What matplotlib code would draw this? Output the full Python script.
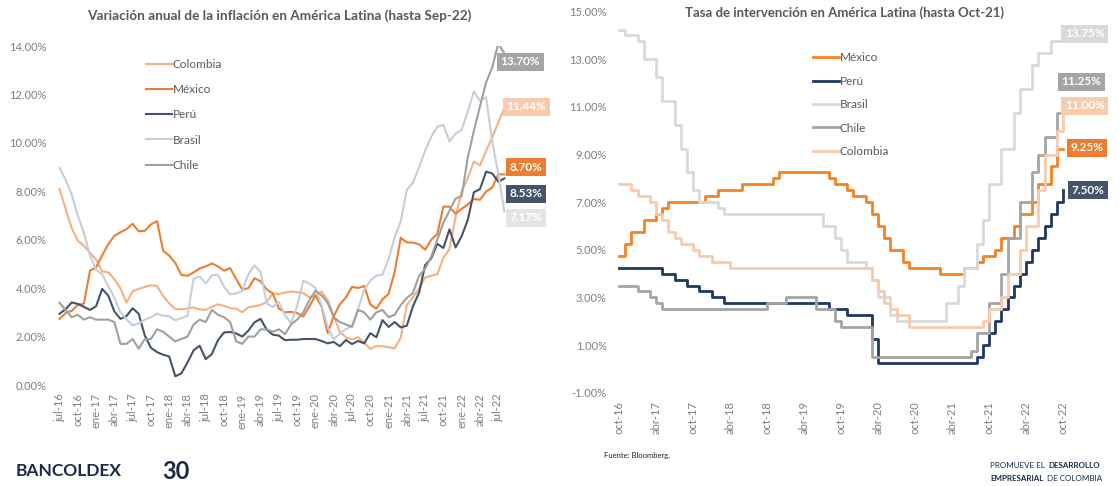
import matplotlib
matplotlib.use('Agg')
import matplotlib.pyplot as plt
from matplotlib.ticker import FuncFormatter

plt.rcParams['font.family'] = ['Lato', 'DejaVu Sans']

################################
# inflacion anual (%), ago-16 .. sep-22
colombia_inf = [8.10, 7.27, 6.48, 5.96, 5.75,
                5.47, 5.18, 4.69, 4.66, 4.37, 3.99, 3.40, 3.87, 3.97, 4.05, 4.12, 4.09,
                3.68, 3.37, 3.14, 3.13, 3.16, 3.20, 3.12, 3.10, 3.23, 3.33, 3.27, 3.18,
                3.15, 3.01, 3.21, 3.25, 3.31, 3.43, 3.79, 3.75, 3.82, 3.86, 3.84, 3.80,
                3.62, 3.72, 3.86, 3.51, 2.85, 2.19, 1.97, 1.88, 1.97, 1.75, 1.49, 1.61,
                1.60, 1.56, 1.51, 1.95, 3.30, 3.63, 3.97, 4.44, 4.51, 4.58, 5.26, 5.62,
                6.94, 8.01, 8.53, 9.23, 9.07, 9.67, 10.21, 10.84, 11.44]
mexico_inf = [2.73, 2.97, 3.06, 3.31, 3.36,
              4.72, 4.86, 5.35, 5.82, 6.16, 6.31, 6.44, 6.66, 6.35, 6.37, 6.63, 6.77,
              5.55, 5.34, 5.04, 4.55, 4.51, 4.65, 4.81, 4.90, 5.02, 4.90, 4.72, 4.83,
              4.37, 3.94, 4.00, 4.41, 4.28, 3.95, 3.78, 3.16, 3.00, 3.02, 2.97, 2.83,
              3.24, 3.70, 3.25, 2.15, 2.84, 3.33, 3.62, 4.05, 4.01, 4.09, 3.33, 3.15,
              3.54, 3.76, 4.67, 6.08, 5.89, 5.88, 5.81, 5.59, 6.00, 6.24, 7.37, 7.36,
              7.07, 7.28, 7.45, 7.68, 7.65, 7.99, 8.15, 8.70, 8.70]
peru_inf = [2.94, 3.13, 3.41, 3.35, 3.23,
            3.10, 3.25, 3.97, 3.69, 3.04, 2.73, 2.85, 3.17, 2.94, 2.04, 1.54, 1.36,
            1.25, 1.18, 0.36, 0.48, 0.93, 1.43, 1.62, 1.07, 1.28, 1.85, 2.17, 2.19,
            2.13, 2.00, 2.25, 2.59, 2.73, 2.29, 2.08, 2.04, 1.85, 1.87, 1.87, 1.90,
            1.90, 1.90, 1.82, 1.72, 1.78, 1.60, 1.86, 1.69, 1.82, 1.72, 2.14, 1.97,
            2.68, 2.40, 2.60, 2.38, 2.45, 3.25, 3.81, 4.95, 5.23, 5.83, 5.66, 6.43,
            5.68, 6.15, 6.82, 7.96, 8.09, 8.81, 8.74, 8.40, 8.53]
brasil_inf = [8.97, 8.48, 7.87, 6.99, 6.29,
              5.35, 4.76, 4.57, 4.08, 3.60, 3.00, 2.71, 2.46, 2.54, 2.70, 2.80, 2.95,
              2.86, 2.84, 2.68, 2.76, 2.86, 4.39, 4.48, 4.19, 4.53, 4.56, 4.05, 3.75,
              3.78, 3.89, 4.58, 4.94, 4.66, 3.37, 3.22, 3.43, 2.89, 2.54, 3.27, 4.31,
              4.19, 4.01, 3.30, 2.40, 1.88, 2.13, 2.31, 2.44, 3.14, 3.92, 4.31, 4.52,
              4.56, 5.20, 6.10, 6.76, 8.06, 8.35, 8.99, 9.68, 10.25, 10.67, 10.74, 10.06,
              10.38, 10.54, 11.30, 12.13, 11.73, 11.89, 10.07, 8.73, 7.17]
chile_inf = [3.4, 3.1, 2.8, 2.9, 2.7,
             2.8, 2.7, 2.7, 2.7, 2.6, 1.7, 1.7, 1.9, 1.5, 1.9, 1.9, 2.3,
             2.2, 2.0, 1.8, 1.9, 2.0, 2.5, 2.7, 2.6, 3.1, 2.9, 2.8, 2.6,
             1.8, 1.7, 2.0, 2.0, 2.3, 2.3, 2.2, 2.3, 2.1, 2.5, 2.7, 3.0,
             3.5, 3.9, 3.7, 3.4, 2.8, 2.6, 2.5, 2.4, 3.1, 3.0, 2.7, 3.0,
             3.1, 2.8, 2.9, 3.3, 3.6, 3.8, 4.5, 4.8, 5.3, 6.0, 6.7, 7.2,
             7.7, 7.8, 9.4, 10.5, 11.5, 12.5, 13.1, 14.1, 13.7]
inf_ticks = ['jul-16', 'oct-16', 'ene-17', 'abr-17', 'jul-17', 'oct-17', 'ene-18', 'abr-18',
             'jul-18', 'oct-18', 'ene-19', 'abr-19', 'jul-19', 'oct-19', 'ene-20', 'abr-20',
             'jul-20', 'oct-20', 'ene-21', 'abr-21', 'jul-21', 'oct-21', 'ene-22', 'abr-22',
             'jul-22']

# tasa de intervencion (%), fin de mes, oct-16 .. oct-22
mexico_tasa = [4.75, 5.25, 5.75, 5.75, 6.25, 6.25, 6.50, 6.75, 7.00, 7.00, 7.00, 7.00,
               7.00, 7.00, 7.25, 7.25, 7.50, 7.50, 7.50, 7.50, 7.75, 7.75, 7.75, 7.75,
               7.75, 8.00, 8.25, 8.25, 8.25, 8.25, 8.25, 8.25, 8.25, 8.25, 8.00, 7.75,
               7.75, 7.50, 7.25, 7.25, 7.00, 6.50, 6.00, 5.50, 5.00, 5.00, 4.50, 4.25,
               4.25, 4.25, 4.25, 4.25, 4.00, 4.00, 4.00, 4.00, 4.25, 4.25, 4.50, 4.75,
               4.75, 5.00, 5.50, 5.50, 6.00, 6.50, 6.50, 7.00, 7.75, 7.75, 8.50, 9.25,
               9.25]
peru_tasa = [4.25, 4.25, 4.25, 4.25, 4.25, 4.25, 4.25, 4.00, 4.00, 3.75, 3.75, 3.50,
             3.50, 3.25, 3.25, 3.00, 3.00, 2.75, 2.75, 2.75, 2.75, 2.75, 2.75, 2.75,
             2.75, 2.75, 2.75, 2.75, 2.75, 2.75, 2.75, 2.75, 2.75, 2.75, 2.50, 2.50,
             2.50, 2.25, 2.25, 2.25, 2.25, 1.25, 0.25, 0.25, 0.25, 0.25, 0.25, 0.25,
             0.25, 0.25, 0.25, 0.25, 0.25, 0.25, 0.25, 0.25, 0.25, 0.25, 0.50, 1.00,
             1.50, 2.00, 2.50, 3.00, 3.50, 4.00, 4.50, 5.00, 5.50, 6.00, 6.50, 7.00,
             7.50]
brasil_tasa = [14.25, 14.00, 14.00, 13.75, 13.00, 13.00, 12.25, 11.25, 11.25, 10.25, 9.25, 8.25,
               7.50, 7.00, 7.00, 7.00, 6.75, 6.50, 6.50, 6.50, 6.50, 6.50, 6.50, 6.50,
               6.50, 6.50, 6.50, 6.50, 6.50, 6.50, 6.50, 6.50, 6.50, 6.00, 6.00, 5.50,
               5.00, 4.50, 4.50, 4.50, 4.25, 3.75, 3.00, 3.00, 2.25, 2.00, 2.00, 2.00,
               2.00, 2.00, 2.00, 2.00, 2.00, 2.75, 2.75, 3.50, 4.25, 4.25, 5.25, 6.25,
               7.75, 7.75, 9.25, 9.25, 10.75, 11.75, 11.75, 12.75, 13.25, 13.25, 13.75, 13.75,
               13.75]
chile_tasa = [3.50, 3.50, 3.50, 3.25, 3.25, 3.00, 2.75, 2.50, 2.50, 2.50, 2.50, 2.50,
              2.50, 2.50, 2.50, 2.50, 2.50, 2.50, 2.50, 2.50, 2.50, 2.50, 2.50, 2.50,
              2.75, 2.75, 2.75, 3.00, 3.00, 3.00, 3.00, 3.00, 2.50, 2.50, 2.50, 2.00,
              1.75, 1.75, 1.75, 1.75, 1.75, 0.50, 0.50, 0.50, 0.50, 0.50, 0.50, 0.50,
              0.50, 0.50, 0.50, 0.50, 0.50, 0.50, 0.50, 0.50, 0.50, 0.75, 1.50, 1.50,
              2.75, 2.75, 4.00, 5.50, 5.50, 7.00, 7.00, 8.25, 9.00, 9.75, 9.75, 10.75,
              11.25]
colombia_tasa = [7.75, 7.75, 7.50, 7.25, 7.25, 7.00, 6.50, 6.25, 5.75, 5.50, 5.25, 5.25,
                 5.00, 4.75, 4.75, 4.50, 4.50, 4.50, 4.25, 4.25, 4.25, 4.25, 4.25, 4.25,
                 4.25, 4.25, 4.25, 4.25, 4.25, 4.25, 4.25, 4.25, 4.25, 4.25, 4.25, 4.25,
                 4.25, 4.25, 4.25, 4.25, 4.25, 3.75, 3.25, 2.75, 2.50, 2.25, 2.25, 1.75,
                 1.75, 1.75, 1.75, 1.75, 1.75, 1.75, 1.75, 1.75, 1.75, 1.75, 1.75, 2.00,
                 2.50, 2.50, 3.00, 4.00, 4.00, 5.00, 6.00, 6.00, 7.50, 9.00, 9.00, 10.00,
                 11.00]
tasa_ticks = ['oct-16', 'abr-17', 'oct-17', 'abr-18', 'oct-18', 'abr-19', 'oct-19',
              'abr-20', 'oct-20', 'abr-21', 'oct-21', 'abr-22', 'oct-22']
################################

def pct(x, pos):
    return '%.2f%%' % x
formatter = FuncFormatter(pct)

gris = '#7f7f7f'
titulo = '#595959'
azul = '#1b2a49'

fig = plt.figure(figsize=(11.19, 4.86), dpi=100)
ax1 = fig.add_axes([0.04915, 0.2078, 0.4424, 0.6975])
ax2 = fig.add_axes([0.5496, 0.192, 0.4468, 0.784])

# ---- panel izquierdo
inf_series = [('Colombia', colombia_inf, '#F4B183'),
              ('México', mexico_inf, '#ED7D31'),
              ('Perú', peru_inf, '#44546A'),
              ('Brasil', brasil_inf, '#C5CEDB'),
              ('Chile', chile_inf, '#A0A0A0')]
idx = list(range(len(colombia_inf)))
for name, vals, col in inf_series:
    ax1.plot(idx, vals, color=col, lw=1.5, label=name, solid_joinstyle='round')

ax1.set_xlim(-0.74, 80.5)
ax1.set_ylim(0, 14)
ax1.set_yticks([0, 2, 4, 6, 8, 10, 12, 14])
ax1.yaxis.set_major_formatter(formatter)
ax1.set_xticks(list(range(0, 3 * len(inf_ticks), 3)))
ax1.set_xticklabels(inf_ticks, rotation=90)

end_inf = [(75.6, 13.35, '13.70%', '#A5A5A5'),
           (76.6, 11.49, '11.44%', '#F8CBAD'),
           (76.6, 9.0, '8.70%', '#ED7D31'),
           (76.6, 7.9, '8.53%', '#44546A'),
           (76.6, 6.9, '7.17%', '#E4E4E4')]
for x, y, s, c in end_inf:
    ax1.text(x, y, s, ha='center', va='center', color='white', fontsize=8.5,
             fontweight='bold', bbox=dict(boxstyle='square,pad=0.3', fc=c, ec='none'))

ax1.legend(loc='upper left', bbox_to_anchor=(0.162, 0.993), frameon=False, fontsize=8.5,
           handlelength=2.2, handletextpad=0.1, labelspacing=1.2, labelcolor=titulo)
fig.text(0.25, 0.968, 'Variación anual de la inflación en América Latina (hasta Sep-22)',
         ha='center', va='center', fontsize=9.8, fontweight='bold', color=titulo)

# ---- panel derecho
tasa_series = [('México', mexico_tasa, '#F5821F'),
               ('Perú', peru_tasa, '#1F3864'),
               ('Brasil', brasil_tasa, '#D9D9D9'),
               ('Chile', chile_tasa, '#A5A5A5'),
               ('Colombia', colombia_tasa, '#F8CBAD')]
idx2 = list(range(len(mexico_tasa)))
for name, vals, col in tasa_series:
    ax2.plot(idx2, vals, color=col, lw=2.0, label=name, drawstyle='steps-post')

ax2.set_xlim(-0.65, 80.4)
ax2.set_ylim(-1, 15)
ax2.set_yticks([-1, 1, 3, 5, 7, 9, 11, 13, 15])
ax2.yaxis.set_major_formatter(formatter)
ax2.set_xticks(list(range(0, 6 * len(tasa_ticks), 6)))
ax2.set_xticklabels(tasa_ticks, rotation=90)

end_tasa = [(75.5, 14.07, '13.75%', '#D9D9D9'),
            (75.0, 12.05, '11.25%', '#A5A5A5'),
            (75.5, 11.04, '11.00%', '#F8CBAD'),
            (75.8, 9.28, '9.25%', '#ED7D31'),
            (76.0, 7.51, '7.50%', '#44546A')]
for x, y, s, c in end_tasa:
    ax2.text(x, y, s, ha='center', va='center', color='white', fontsize=8.5,
             fontweight='bold', bbox=dict(boxstyle='square,pad=0.3', fc=c, ec='none'))

ax2.legend(loc='upper left', bbox_to_anchor=(0.374, 0.921), frameon=False, fontsize=8.5,
           handlelength=2.2, handletextpad=0.1, labelspacing=1.05, labelcolor=titulo)
fig.text(0.755, 0.974, 'Tasa de intervención en América Latina (hasta Oct-21)',
         ha='center', va='center', fontsize=9.5, fontweight='bold', color=titulo)

for ax in (ax1, ax2):
    for sp in ax.spines.values():
        sp.set_visible(False)
    ax.tick_params(length=0, labelsize=8, labelcolor=gris)
    ax.tick_params(axis='y', pad=6)
    ax.tick_params(axis='x', pad=6)

# ---- pie
fig.text(0.54, 0.062, 'Fuente: Bloomberg.', fontsize=5.5, color='#222222', va='center')
fig.text(0.014, 0.03, 'BANCOLDEX', fontsize=12.5, fontweight='bold', color=azul,
         va='center')
fig.text(0.145, 0.03, '30', fontsize=17, fontweight='bold', color=azul, va='center')

t1 = fig.text(0.885, 0.042, 'PROMUEVE EL', fontsize=5.8, color=azul, va='center')
t2 = fig.text(0.885, 0.016, 'EMPRESARIAL', fontsize=5.8, fontweight='bold', color=azul,
              va='center')
fig.canvas.draw()
r = fig.canvas.get_renderer()
fig.text(t1.get_window_extent(r).x1 / fig.bbox.width + 0.003, 0.042, 'DESARROLLO',
         fontsize=5.8, fontweight='bold', color=azul, va='center')
fig.text(t2.get_window_extent(r).x1 / fig.bbox.width + 0.003, 0.016, 'DE COLOMBIA',
         fontsize=5.8, color=azul, va='center')

plt.savefig('out.png', dpi=100)
